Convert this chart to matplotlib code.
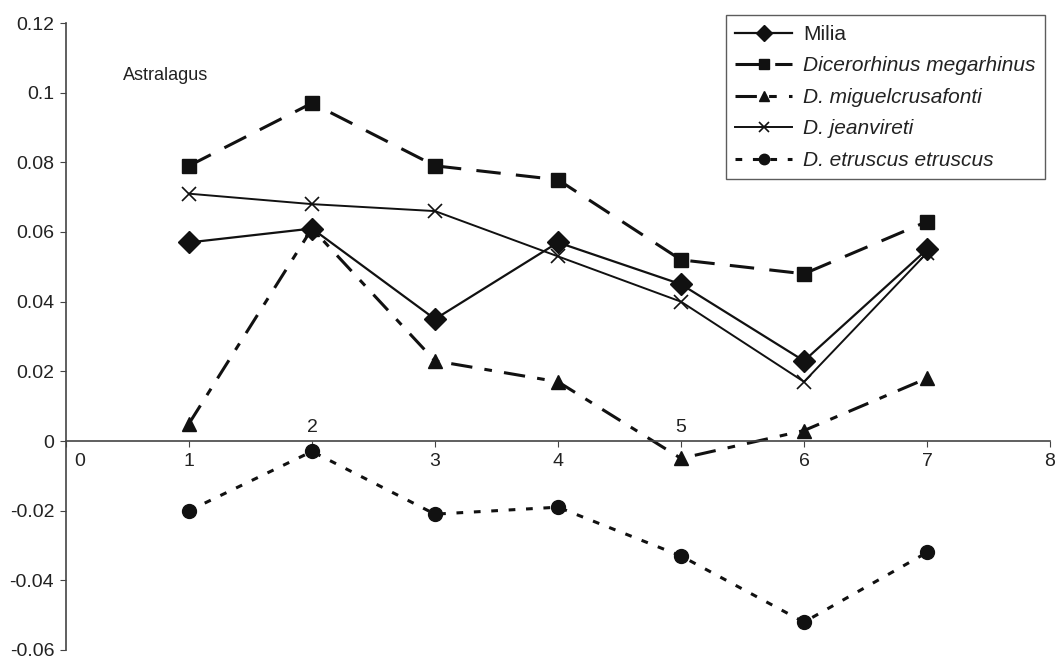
import numpy as np
import matplotlib
matplotlib.use("Agg")
import matplotlib.pyplot as plt

plt.rcParams['font.family'] = ['Liberation Sans', 'DejaVu Sans']

x = [1, 2, 3, 4, 5, 6, 7]
milia = [0.057, 0.061, 0.035, 0.057, 0.045, 0.023, 0.055]
megarhinus = [0.079, 0.097, 0.079, 0.075, 0.052, 0.048, 0.063]
miguel = [0.005, 0.061, 0.023, 0.017, -0.005, 0.003, 0.018]
jeanvireti = [0.071, 0.068, 0.066, 0.053, 0.040, 0.017, 0.054]
etruscus = [-0.020, -0.003, -0.021, -0.019, -0.033, -0.052, -0.032]

labels = ["Milia", "Dicerorhinus megarhinus", "D. miguelcrusafonti",
          "D. jeanvireti", "D. etruscus etruscus"]
xticks = [0, 1, 2, 3, 4, 5, 6, 7, 8]
yticks = [-0.06, -0.04, -0.02, 0, 0.02, 0.04, 0.06, 0.08, 0.1, 0.12]
ytick_labels = ["-0.06", "-0.04", "-0.02", "0", "0.02", "0.04", "0.06", "0.08", "0.1", "0.12"]

k = "#111111"
fig = plt.figure(figsize=(10.57, 6.59), dpi=100)
ax = fig.add_axes([66/1057, 9/659, (1050-66)/1057, (650-23)/659])

ax.plot(x, milia, color=k, lw=1.6, marker="D", ms=11, label=labels[0])
ax.plot(x, megarhinus, color=k, lw=2.2, marker="s", ms=10, dashes=(8, 5), label=labels[1])
ax.plot(x, miguel, color=k, lw=2.2, marker="^", ms=10, dashes=(7, 4, 2.5, 4), label=labels[2])
ax.plot(x, jeanvireti, color=k, lw=1.4, marker="x", ms=9.5, mew=1.2, label=labels[3])
ax.plot(x, etruscus, color=k, lw=2.2, marker="o", ms=10, dashes=(2.2, 3.5), label=labels[4])

ax.set_xlim(0, 8)
ax.set_ylim(-0.06, 0.12)
ax.spines['top'].set_visible(False)
ax.spines['right'].set_visible(False)
ax.spines['bottom'].set_position(('data', 0))
ax.spines['left'].set_color("#444444")
ax.spines['bottom'].set_color("#444444")
ax.spines['left'].set_linewidth(1.2)
ax.spines['bottom'].set_linewidth(1.2)

ax.set_yticks(yticks)
ax.set_yticklabels(ytick_labels)
ax.set_xticks(xticks)
ax.set_xticklabels([])
ax.tick_params(axis='both', direction='out', length=4, pad=4.5, colors="#444444",
               labelcolor="#222222", labelsize=14)

# x tick labels, 2 and 5 sit above the axis, 0 a bit to the right
for xv in xticks:
    if xv in (2, 5):
        ax.annotate(str(xv), (xv, 0), xytext=(0, 3.5), textcoords="offset points",
                    ha="center", va="bottom", fontsize=14, color="#222222")
    else:
        dx = 10 if xv == 0 else 0
        ax.annotate(str(xv), (xv, 0), xytext=(dx, -9), textcoords="offset points",
                    ha="center", va="top", fontsize=14, color="#222222")

ax.text(0.46, 0.105, "Astralagus", fontsize=13, color="#222222", va="center")

leg = ax.legend(loc="upper right", bbox_to_anchor=(0.995, 1.012), fontsize=15,
                frameon=True, fancybox=False, edgecolor="#333333",
                handlelength=2.7, handletextpad=0.55, borderpad=0.45,
                labelspacing=0.6, markerscale=0.75, borderaxespad=0)
leg.get_frame().set_linewidth(1.0)
for i, t in enumerate(leg.get_texts()):
    t.set_color("#222222")
    if i > 0:
        t.set_style("italic")

fig.savefig("out.png", dpi=100)
